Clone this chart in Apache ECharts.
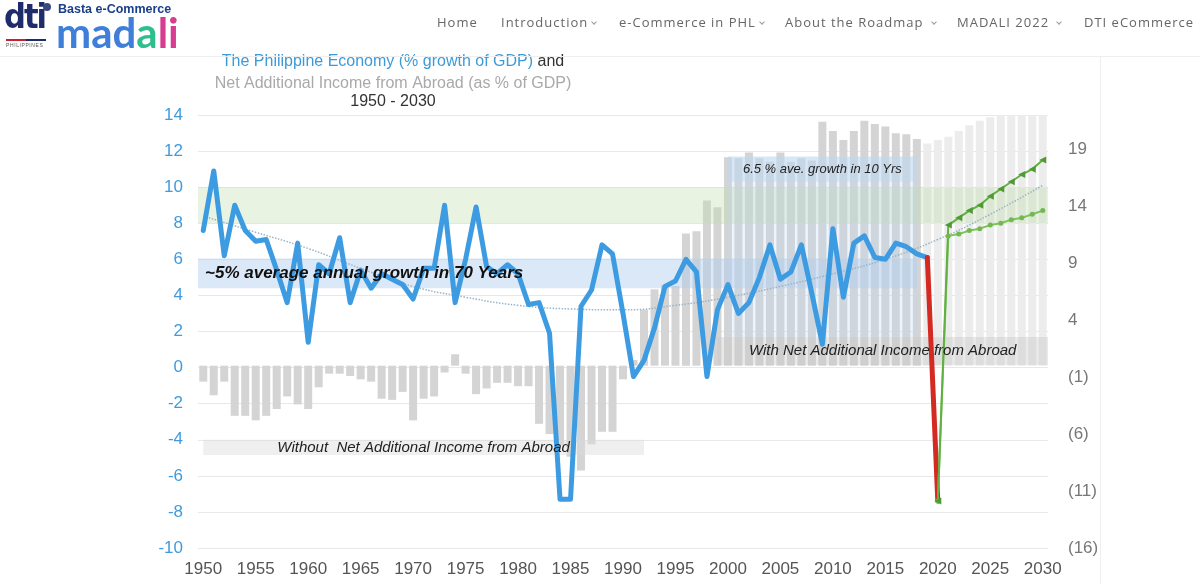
<!DOCTYPE html>
<html>
<head>
<meta charset="utf-8">
<title>The Philippine Economy</title>
<script src="https://cdn.jsdelivr.net/npm/echarts@6/dist/echarts.min.js"></script>
<style>
  html, body { margin: 0; padding: 0; background: #fff; }
  #page { position: relative; width: 1200px; height: 584px; overflow: hidden; font-family: "Liberation Sans", Arial, sans-serif; }
  #chart { position: absolute; left: 0; top: 0; width: 1200px; height: 584px; }
  #header { position: absolute; left: 0; top: 0; width: 1200px; height: 56px; border-bottom: 1px solid #eeeeee; }
  #sideline { position: absolute; left: 1100px; top: 57px; width: 1px; height: 527px; background: #eeeeee; }
  .dti { position: absolute; left: 4px; top: -4px; font-family: "DejaVu Sans Condensed", "DejaVu Sans"; font-weight: bold; font-size: 34px; letter-spacing: -2px; color: #1e2c6b; }
  .globe { position: absolute; left: 43px; top: 3px; width: 8px; height: 8px; border-radius: 50%; background: #3b4a7e; }
  .stripe { position: absolute; left: 6px; top: 39px; width: 40px; height: 2px; background: linear-gradient(90deg, #c8202f 50%, #1e2c6b 50%); }
  .phil { position: absolute; left: 6px; top: 42px; font-size: 5px; letter-spacing: 0.6px; color: #555; }
  .basta { position: absolute; left: 58px; top: 2px; font-weight: bold; font-size: 12.5px; color: #1b3f8a; }
  .madali { position: absolute; left: 56px; top: 10px; font-family: Lato, "Noto Sans"; font-weight: bold; font-size: 42px; line-height: 44px; }
  .nav { position: absolute; top: 13px; font-family: "Open Sans"; font-size: 13px; letter-spacing: 1px; color: #666; white-space: nowrap; }
  .chev { display: inline-block; width: 3px; height: 3px; border-right: 1px solid #999; border-bottom: 1px solid #999; transform: rotate(45deg); margin-left: 4px; position: relative; top: -3px; }
</style>
</head>
<body>
<div id="page">
  <div id="chart"></div>
  <div id="header">
    <div class="dti">dti</div>
    <div class="globe"></div>
    <div class="stripe"></div>
    <div class="phil">PHILIPPINES</div>
    <div class="basta">Basta e-Commerce</div>
    <div class="madali"><span style="color:#3f7fd9">mad</span><span style="color:#2fbf8f">a</span><span style="color:#d63c8f">li</span></div>
    <div class="nav" style="left:437px">Home</div>
    <div class="nav" style="left:501px">Introduction<span class="chev"></span></div>
    <div class="nav" style="left:619px">e-Commerce in PHL<span class="chev"></span></div>
    <div class="nav" style="left:785px">About the Roadmap <span class="chev"></span></div>
    <div class="nav" style="left:957px">MADALI 2022 <span class="chev"></span></div>
    <div class="nav" style="left:1084px">DTI eCommerce</div>
  </div>
  <div id="sideline"></div>
</div>
<script>
// years on the x axis
const years = [];
for (let y = 1950; y <= 2030; y++) years.push(String(y));

// GDP growth %, 1950 - 2019
const gdpGrowth = [
  7.6, 10.9, 6.2, 9.0, 7.6, 7.0, 7.1, 5.4, 3.6, 6.9,
  1.4, 5.7, 5.2, 7.2, 3.6, 5.4, 4.4, 5.2, 4.9, 4.6,
  3.8, 5.5, 5.5, 9.0, 3.6, 6.0, 8.9, 5.6, 5.2, 5.7,
  5.2, 3.5, 3.6, 1.9, -7.3, -7.3, 3.4, 4.3, 6.8, 6.3,
  3.0, -0.5, 0.4, 2.2, 4.5, 4.8, 6.0, 5.3, -0.5, 3.2,
  4.6, 3.0, 3.6, 5.0, 6.8, 4.9, 5.3, 6.8, 4.1, 1.3,
  7.7, 3.9, 6.9, 7.3, 6.1, 6.0, 6.9, 6.7, 6.3, 6.1
];

// net additional income from abroad, % of GDP (right axis), 1950 - 2018
const netIncome = [
  -1.4, -2.6, -1.4, -4.4, -4.4, -4.8, -4.4, -3.8, -2.7, -3.4,
  -3.8, -1.9, -0.7, -0.7, -0.9, -1.2, -1.4, -2.9, -3.0, -2.3,
  -4.8, -2.9, -2.7, -0.6, 1.0, -0.7, -2.5, -2.0, -1.5, -1.5,
  -1.8, -1.8, -5.1, -6.0, -7.0, -8.0, -9.2, -6.9, -5.8, -5.8,
  -1.2, 0.5, 4.9, 6.7, 7.1, 7.0, 11.6, 11.8, 14.5, 13.9,
  18.3, 18.2, 18.7, 18.2, 17.9, 18.7, 17.9, 18.2, 18.0, 21.4,
  20.6, 19.8, 20.6, 21.5, 21.2, 21.0, 20.4, 20.3, 19.9
];

// projected net income bars, 2019 - 2030
const forecastYears = ['2019', '2020', '2021', '2022', '2023', '2024', '2025', '2026', '2027', '2028', '2029', '2030'];
const forecastIncome = [19.5, 19.8, 20.1, 20.6, 21.1, 21.5, 21.8, 22, 22, 22, 22, 22];

// 2020 drop
const dropYears = ['2019', '2020'];
const dropValues = [6.1, -7.4];

// recovery scenarios 2020 - 2030
const recoveryYears = ['2020', '2021', '2022', '2023', '2024', '2025', '2026', '2027', '2028', '2029', '2030'];
const recoveryHigh = [-7.4, 7.9, 8.3, 8.7, 9.0, 9.5, 9.9, 10.3, 10.7, 11.0, 11.5];
const recoveryLow = [-7.4, 7.3, 7.4, 7.6, 7.7, 7.9, 8.0, 8.2, 8.3, 8.5, 8.7];

// dotted trend line
const trendYears = ['1950', '1955', '1960', '1965', '1970', '1975', '1980', '1985', '1990', '1995', '2000', '2005', '2010', '2015', '2020', '2025', '2030'];
const trendValues = [8.4, 7.5, 6.6, 5.5, 4.5, 3.9, 3.45, 3.25, 3.2, 3.45, 3.9, 4.5, 5.2, 6.0, 7.1, 8.5, 10.1];

const pairs = (xs, vs) => xs.map((x, i) => [x, vs[i]]);

const labelFont = { fontFamily: 'Liberation Sans', fontStyle: 'italic', color: '#222' };

const option = {
  animation: false,
  backgroundColor: 'transparent',
  textStyle: { fontFamily: 'Liberation Sans' },
  graphic: [
    {
      type: 'text', x: 393, y: 62,
      style: {
        text: '{b|The Philippine Economy (% growth of GDP)}{k| and}',
        align: 'center', verticalAlign: 'middle',
        rich: {
          b: { fontSize: 16, fontFamily: 'Liberation Sans', fill: '#3d9ad8', color: '#3d9ad8' },
          k: { fontSize: 16, fontFamily: 'Liberation Sans', fill: '#333', color: '#333' }
        }
      }
    },
    {
      type: 'text', x: 393, y: 84,
      style: { text: 'Net Additional Income from Abroad (as % of GDP)', align: 'center', verticalAlign: 'middle', font: '16px "Liberation Sans"', fill: '#a9a9a9' }
    },
    {
      type: 'text', x: 393, y: 102,
      style: { text: '1950 - 2030', align: 'center', verticalAlign: 'middle', font: '16px "Liberation Sans"', fill: '#333' }
    }
  ],
  grid: { left: 198, right: 152, top: 115, bottom: 36 },
  xAxis: {
    type: 'category',
    data: years,
    boundaryGap: true,
    axisLine: { show: false },
    axisTick: { show: false },
    axisLabel: { interval: 4, fontSize: 17, color: '#555', margin: 13 }
  },
  yAxis: [
    {
      type: 'value', min: -10, max: 14, interval: 2,
      axisLine: { show: false }, axisTick: { show: false },
      axisLabel: { fontSize: 17, color: '#3f9bdc', margin: 15 },
      splitLine: { lineStyle: { color: '#e8e8e8' } }
    },
    {
      type: 'value', min: -16, max: 22, interval: 5, position: 'right',
      axisLine: { show: false }, axisTick: { show: false },
      splitLine: { show: false },
      axisLabel: {
        fontSize: 17, color: '#777', margin: 20,
        formatter: v => ((v + 16) % 5 !== 0 ? '' : v < 0 ? '(' + (-v) + ')' : String(v))
      }
    }
  ],
  series: [
    {
      name: 'Net income', type: 'bar', yAxisIndex: 1, z: 1,
      data: netIncome, barWidth: 8, barGap: '-100%',
      itemStyle: { color: '#d4d4d4' }
    },
    {
      name: 'Projected net income', type: 'bar', yAxisIndex: 1, z: 1,
      data: pairs(forecastYears, forecastIncome), barWidth: 8, barGap: '-100%',
      itemStyle: { color: '#ececec' }
    },
    {
      name: 'bands', type: 'line', z: 2, data: [], silent: true,
      markArea: {
        silent: true, z: 2,
        data: [
          [{ yAxis: 10, itemStyle: { color: 'rgba(190,220,170,0.35)' } }, { yAxis: 8 }],
          [{ yAxis: 6.05, itemStyle: { color: 'rgba(175,205,238,0.45)' } }, { xAxis: '2018', yAxis: 4.4 }],
          [{ xAxis: '2000', yAxis: 11.7, itemStyle: { color: 'rgba(190,215,240,0.28)' } }, { xAxis: '2018', yAxis: 1.7 }],
          [{ xAxis: '2000', yAxis: 11.7, itemStyle: { color: 'rgba(190,215,240,0.45)' } }, { xAxis: '2018', yAxis: 10.3 }],
          [{ xAxis: '1950', yAxis: -4.0, itemStyle: { color: 'rgba(220,220,220,0.45)' } }, { xAxis: '1992', yAxis: -4.85 }],
          [{ xAxis: '1999', yAxis: 1.7, itemStyle: { color: 'rgba(200,200,200,0.4)' } }, { yAxis: 0.15 }]
        ]
      }
    },
    {
      name: 'Trend', type: 'line', z: 3, smooth: true, showSymbol: false, connectNulls: true,
      data: pairs(trendYears, trendValues),
      lineStyle: { color: '#9ab4c8', width: 1.5, type: 'dotted' }
    },
    {
      name: 'GDP growth', type: 'line', z: 4, showSymbol: false,
      data: gdpGrowth,
      lineStyle: { color: '#3d9be2', width: 5, cap: 'round', join: 'round' }
    },
    {
      name: '2020', type: 'line', z: 5, showSymbol: false,
      data: pairs(dropYears, dropValues),
      lineStyle: { color: '#d42a22', width: 5, cap: 'round' }
    },
    {
      name: 'Recovery low', type: 'line', z: 6,
      data: pairs(recoveryYears, recoveryLow),
      symbol: 'circle', symbolSize: 5, showAllSymbol: true,
      itemStyle: { color: '#72b84f' },
      lineStyle: { color: '#7cc45a', width: 2 }
    },
    {
      name: 'Recovery high', type: 'line', z: 6,
      data: pairs(recoveryYears, recoveryHigh),
      symbol: 'triangle', symbolSize: 7, symbolRotate: 90, showAllSymbol: true,
      itemStyle: { color: '#4f9a35' },
      lineStyle: { color: '#62b043', width: 2 }
    },
    {
      name: 'labels', type: 'line', z: 10, data: [], silent: true,
      markArea: {
        silent: true, z: 10,
        itemStyle: { color: 'rgba(0,0,0,0)' },
        data: [
          [{ yAxis: 6.05, label: { show: true, position: 'insideLeft', distance: 7, formatter: '~5% average annual growth in 70 Years', fontSize: 17, fontWeight: 'bold', fontStyle: 'italic', color: '#111', fontFamily: 'Liberation Sans' } }, { xAxis: '2018', yAxis: 4.4 }],
          [{ xAxis: '2000', yAxis: 11.7, label: Object.assign({ show: true, position: 'inside', formatter: '6.5 % ave. growth in 10 Yrs', fontSize: 13 }, labelFont) }, { xAxis: '2018', yAxis: 10.3 }],
          [{ xAxis: '1950', yAxis: -4.0, label: Object.assign({ show: true, position: 'inside', formatter: 'Without  Net Additional Income from Abroad', fontSize: 15 }, labelFont) }, { xAxis: '1992', yAxis: -4.85 }],
          [{ xAxis: '1999', yAxis: 1.7, label: Object.assign({ show: true, position: 'inside', formatter: 'With Net Additional Income from Abroad', fontSize: 15 }, labelFont) }, { yAxis: 0.15 }]
        ]
      }
    }
  ]
};

const initChart = () => {
  const myChart = echarts.init(document.getElementById('chart'));
  myChart.setOption(option);
  myChart.resize();
};

window.addEventListener('load', () => {
  initChart();
});
</script>
</body>
</html>
